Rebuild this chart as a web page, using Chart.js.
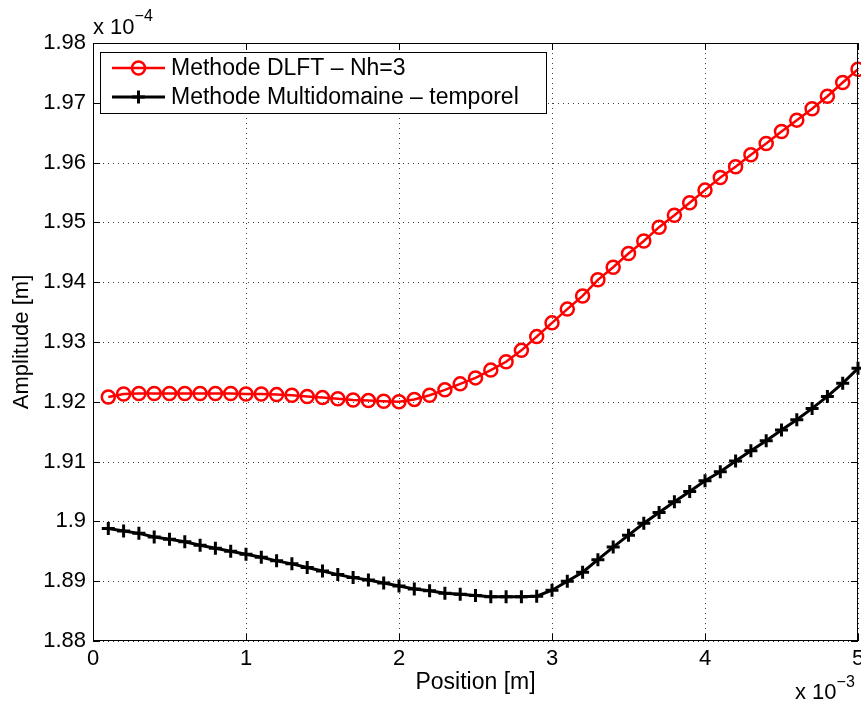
<!DOCTYPE html>
<html>
<head>
<meta charset="utf-8">
<title>Amplitude - Position</title>
<script src="https://cdn.jsdelivr.net/npm/chart.js@4/dist/chart.umd.min.js"></script>
<style>
    html, body { margin: 0; padding: 0; background: #fff; }
    #chartBox { width: 861px; height: 708px; }
</style>
</head>
<body>
<div id="chartBox"><canvas id="ampChart" width="861" height="708"></canvas></div>
<script>
// --- Donnees (x en 1e-3 m, y en 1e-4 m) ---
const positions = [0.1, 0.2, 0.3, 0.4, 0.5, 0.6, 0.7, 0.8, 0.9, 1.0,
    1.1, 1.2, 1.3, 1.4, 1.5, 1.6, 1.7, 1.8, 1.9, 2.0,
    2.1, 2.2, 2.3, 2.4, 2.5, 2.6, 2.7, 2.8, 2.9, 3.0,
    3.1, 3.2, 3.3, 3.4, 3.5, 3.6, 3.7, 3.8, 3.9, 4.0,
    4.1, 4.2, 4.3, 4.4, 4.5, 4.6, 4.7, 4.8, 4.9, 5.0];

const dlftValues = [1.9208, 1.9213, 1.9214, 1.9214, 1.9214, 1.9214, 1.9214, 1.9214, 1.9214, 1.9213,
    1.9213, 1.9212, 1.9211, 1.9209, 1.9207, 1.9205, 1.9203, 1.9202, 1.9201, 1.9200,
    1.9204, 1.9211, 1.9220, 1.9230, 1.9240, 1.9253, 1.9267, 1.9286, 1.9309, 1.9332,
    1.9355, 1.9377, 1.9404, 1.9425, 1.9448, 1.9469, 1.9492, 1.9512, 1.9533, 1.9554,
    1.9575, 1.9593, 1.9613, 1.9632, 1.9652, 1.9671, 1.9690, 1.9711, 1.9734, 1.9756];

const multiValues = [1.8988, 1.8984, 1.8980, 1.8974, 1.8970, 1.8966, 1.8960, 1.8955, 1.8950, 1.8945,
    1.8940, 1.8934, 1.8929, 1.8923, 1.8917, 1.8911, 1.8906, 1.8902, 1.8897, 1.8892,
    1.8887, 1.8884, 1.8880, 1.8878, 1.8876, 1.8874, 1.8874, 1.8874, 1.8875, 1.8885,
    1.8900, 1.8915, 1.8936, 1.8957, 1.8977, 1.8997, 1.9015, 1.9033, 1.9050, 1.9068,
    1.9083, 1.9101, 1.9118, 1.9135, 1.9153, 1.9170, 1.9189, 1.9209, 1.9231, 1.9256];

const seriesNames = ['Methode DLFT \u2013 Nh=3', 'Methode Multidomaine \u2013 temporel'];

const xTickValues = [0, 1, 2, 3, 4, 5];
const xTickLabels = ['0', '1', '2', '3', '4', '5'];
const yTickValues = [1.88, 1.89, 1.90, 1.91, 1.92, 1.93, 1.94, 1.95, 1.96, 1.97, 1.98];
const yTickLabels = ['1.88', '1.89', '1.9', '1.91', '1.92', '1.93', '1.94', '1.95', '1.96', '1.97', '1.98'];

const FONT = '"Liberation Sans", Arial, Helvetica, sans-serif';
const TICK_SIZE = 22;
const TEXT_SIZE = 23;

function toPoints(values) {
    return values.map(function(v, i) { return { x: positions[i], y: v }; });
}

// grille pointillee (style MATLAB)
const gridPlugin = {
    id: 'dottedGrid',
    beforeDatasetsDraw: function(chart) {
        const ctx = chart.ctx;
        const a = chart.chartArea;
        const xs = chart.scales.x;
        const ys = chart.scales.y;
        ctx.save();
        ctx.strokeStyle = 'rgba(0,0,0,0.75)';
        ctx.lineWidth = 1;
        ctx.setLineDash([1, 4]);
        ctx.beginPath();
        xs.ticks.forEach(function(t) {
            const px = Math.round(xs.getPixelForValue(t.value)) + 0.5;
            ctx.moveTo(px, a.top); ctx.lineTo(px, a.bottom);
        });
        ys.ticks.forEach(function(t) {
            const py = Math.round(ys.getPixelForValue(t.value)) + 0.5;
            ctx.moveTo(a.left, py); ctx.lineTo(a.right, py);
        });
        ctx.stroke();
        ctx.restore();
    }
};

// cadre + graduations vers l'interieur
const framePlugin = {
    id: 'frame',
    afterDraw: function(chart) {
        const ctx = chart.ctx;
        const a = chart.chartArea;
        const xs = chart.scales.x;
        const ys = chart.scales.y;
        const len = 7;
        ctx.save();
        ctx.strokeStyle = '#000';
        ctx.lineWidth = 1;
        ctx.strokeRect(Math.round(a.left) + 0.5, Math.round(a.top) + 0.5,
            Math.round(a.right - a.left) - 1, Math.round(a.bottom - a.top) - 1);
        ctx.beginPath();
        xs.ticks.forEach(function(t) {
            const px = Math.round(xs.getPixelForValue(t.value)) + 0.5;
            ctx.moveTo(px, a.bottom); ctx.lineTo(px, a.bottom - len);
            ctx.moveTo(px, a.top); ctx.lineTo(px, a.top + len);
        });
        ys.ticks.forEach(function(t) {
            const py = Math.round(ys.getPixelForValue(t.value)) + 0.5;
            ctx.moveTo(a.left, py); ctx.lineTo(a.left + len, py);
            ctx.moveTo(a.right, py); ctx.lineTo(a.right - len, py);
        });
        ctx.stroke();

        // facteurs d'echelle
        ctx.fillStyle = '#000';
        ctx.textBaseline = 'middle';
        ctx.textAlign = 'left';
        ctx.font = TICK_SIZE + 'px ' + FONT;
        ctx.fillText('x 10', a.left, 28);
        let w = ctx.measureText('x 10').width;
        ctx.font = '16px ' + FONT;
        ctx.fillText('\u22124', a.left + w, 17);

        ctx.font = TICK_SIZE + 'px ' + FONT;
        ctx.fillText('x 10', 795, 693);
        w = ctx.measureText('x 10').width;
        ctx.font = '16px ' + FONT;
        ctx.fillText('\u22123', 795 + w, 683);
        ctx.restore();
    }
};

// legende dans le graphe, en haut a gauche
const legendPlugin = {
    id: 'boxLegend',
    afterDraw: function(chart) {
        const ctx = chart.ctx;
        const box = { x: 100, y: 52, w: 446, h: 61 };
        ctx.save();
        ctx.fillStyle = '#fff';
        ctx.fillRect(box.x, box.y, box.w, box.h);
        ctx.strokeStyle = '#000';
        ctx.lineWidth = 1;
        ctx.strokeRect(box.x + 0.5, box.y + 0.5, box.w, box.h);

        chart.data.datasets.forEach(function(ds, i) {
            const cy = box.y + 16 + i * 29;
            const x1 = 112, x2 = 165, cx = (x1 + x2) / 2;
            ctx.strokeStyle = ds.borderColor;
            ctx.lineWidth = ds.borderWidth;
            ctx.beginPath();
            ctx.moveTo(x1, cy); ctx.lineTo(x2, cy);
            ctx.stroke();
            ctx.lineWidth = ds.pointBorderWidth;
            ctx.beginPath();
            if (ds.pointStyle === 'circle') {
                ctx.arc(cx, cy, ds.pointRadius, 0, Math.PI * 2);
            } else {
                ctx.moveTo(cx - ds.pointRadius, cy); ctx.lineTo(cx + ds.pointRadius, cy);
                ctx.moveTo(cx, cy - ds.pointRadius); ctx.lineTo(cx, cy + ds.pointRadius);
            }
            ctx.stroke();
            ctx.fillStyle = '#000';
            ctx.font = TEXT_SIZE + 'px ' + FONT;
            ctx.textBaseline = 'middle';
            ctx.textAlign = 'left';
            ctx.fillText(ds.label, 171, cy + 1);
        });
        ctx.restore();
    }
};

document.addEventListener('DOMContentLoaded', function() {
    const canvas = document.getElementById('ampChart');

    new Chart(canvas, {
        type: 'line',
        data: {
            datasets: [{
                label: seriesNames[0],
                data: toPoints(dlftValues),
                borderColor: '#ff0000',
                borderWidth: 2.5,
                pointStyle: 'circle',
                pointRadius: 6.5,
                pointBorderWidth: 2.5,
                pointBorderColor: '#ff0000',
                pointBackgroundColor: 'rgba(0,0,0,0)',
                tension: 0,
                clip: false
            }, {
                label: seriesNames[1],
                data: toPoints(multiValues),
                borderColor: '#000000',
                borderWidth: 3,
                pointStyle: 'cross',
                pointRadius: 6.5,
                pointBorderWidth: 3,
                pointBorderColor: '#000000',
                pointBackgroundColor: '#000000',
                tension: 0,
                clip: false
            }]
        },
        options: {
            responsive: false,
            animation: false,
            devicePixelRatio: 1,
            layout: {
                autoPadding: false, // sinon les marqueurs ajoutent de la marge
                padding: { top: 43, right: 3, left: 0, bottom: 0 }
            },
            plugins: {
                legend: { display: false },
                tooltip: { enabled: false }
            },
            scales: {
                x: {
                    type: 'linear',
                    min: 0,
                    max: 5,
                    afterBuildTicks: function(scale) {
                        scale.ticks = xTickValues.map(function(v) { return { value: v }; });
                    },
                    afterFit: function(scale) {
                        scale.height = 67;
                        scale.paddingLeft = 0;
                        scale.paddingRight = 0;
                    },
                    ticks: {
                        color: '#000',
                        padding: 5,
                        maxRotation: 0,
                        font: { family: FONT, size: TICK_SIZE },
                        callback: function(value, index) { return xTickLabels[index]; }
                    },
                    grid: { display: false, drawTicks: false },
                    border: { display: false },
                    title: {
                        display: true,
                        text: 'Position [m]',
                        color: '#000',
                        font: { family: FONT, size: TEXT_SIZE },
                        padding: { top: 0, bottom: 12 }
                    }
                },
                y: {
                    type: 'linear',
                    min: 1.88,
                    max: 1.98,
                    afterBuildTicks: function(scale) {
                        scale.ticks = yTickValues.map(function(v) { return { value: v }; });
                    },
                    afterFit: function(scale) {
                        scale.width = 93;
                        scale.paddingTop = 0;
                        scale.paddingBottom = 0;
                    },
                    ticks: {
                        color: '#000',
                        padding: 7,
                        font: { family: FONT, size: TICK_SIZE },
                        callback: function(value, index) { return yTickLabels[index]; }
                    },
                    grid: { display: false, drawTicks: false },
                    border: { display: false },
                    title: {
                        display: true,
                        text: 'Amplitude [m]',
                        color: '#000',
                        font: { family: FONT, size: TEXT_SIZE - 1 },
                        padding: { top: 9, bottom: 0 }
                    }
                }
            }
        },
        plugins: [gridPlugin, framePlugin, legendPlugin]
    });
});
</script>
</body>
</html>
